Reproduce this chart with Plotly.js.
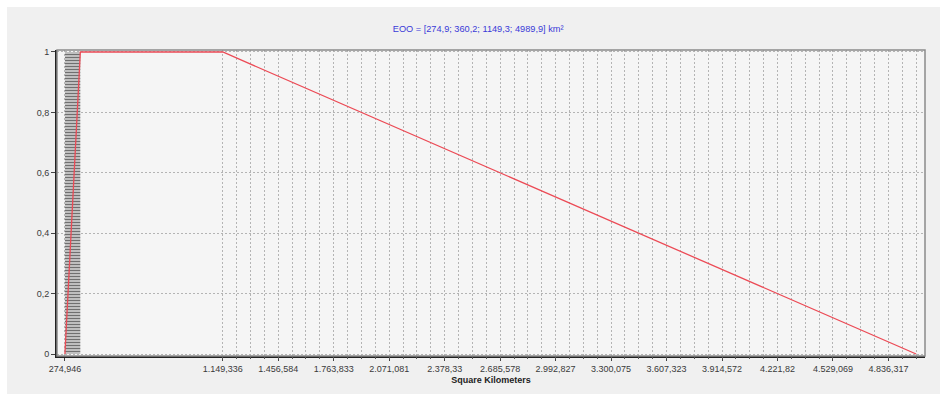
<!DOCTYPE html>
<html>
<head>
<meta charset="utf-8">
<script src="https://cdn.plot.ly/plotly-3.0.1.min.js"></script>
<style>
html,body{margin:0;padding:0;background:#ffffff;}
#chart{position:absolute;left:7px;top:7px;width:933px;height:387px;}
</style>
</head>
<body>
<div id="chart"></div>
<script>
// Trapezoidal fuzzy EOO (km²)
const eooX = [274.946, 360.2, 1149.336, 4989.9];
const eooY = [0, 1, 1, 0];
// Hatched support region (lower bound to lower-mode)
const hatchX = [274.946, 360.2];
const hatchY = [1, 1];
// X tick values and labels
const xTickVals = [274.946, 1149.336, 1456.584, 1763.833, 2071.081, 2378.33, 2685.578, 2992.827, 3300.075, 3607.323, 3914.572, 4221.82, 4529.069, 4836.317];
const xTickText = ["274,946", "1.149,336", "1.456,584", "1.763,833", "2.071,081", "2.378,33", "2.685,578", "2.992,827", "3.300,075", "3.607,323", "3.914,572", "4.221,82", "4.529,069", "4.836,317"];
const yTickVals = [0, 0.2, 0.4, 0.6, 0.8, 1];
const titleText = "EOO = [274,9; 360,2; 1149,3; 4989,9] km²";
const xTitle = "Square Kilometers";

const xRange = [231, 5039];
const yRange = [-0.0066, 1.0066];

// grid positions (layout only): 4 subdivisions per labelled interval
const gridStep = (xTickVals[2] - xTickVals[1]) / 4;
const gridVals = [];
for (let v = xTickVals[1]; v <= xRange[1]; v += gridStep) gridVals.push(v);

const font = {family: "Liberation Sans, Arial, sans-serif", size: 9, color: "#3a3a3a"};
const gridCol = "#b4b4b4";
const gridDash = "2px,2px";

const traces = [
  {
    x: hatchX, y: hatchY, type: "scatter", mode: "lines",
    fill: "tozeroy",
    fillpattern: {shape: "-", fgcolor: "#707070", bgcolor: "#f4f4f4", size: 3, solidity: 0.6},
    line: {width: 0, color: "rgba(0,0,0,0)"},
    hoverinfo: "skip", showlegend: false
  },
  {
    x: eooX, y: eooY, type: "scatter", mode: "lines",
    line: {color: "#ec4a55", width: 1.3},
    showlegend: false
  }
];

const layout = {
  width: 933, height: 387,
  margin: {l: 50, r: 15, t: 43, b: 38},
  paper_bgcolor: "#f0f0f0",
  plot_bgcolor: "#f5f5f5",
  separators: ",.",
  font: font,
  showlegend: false,
  title: {text: titleText, font: {family: "Liberation Sans, Arial, sans-serif", size: 9.2, color: "#3a3ad8"},
          x: 0.505, xanchor: "center", y: 0.943, yanchor: "middle"},
  xaxis: {
    range: xRange, tickmode: "array", tickvals: xTickVals, ticktext: xTickText,
    showgrid: true, gridcolor: gridCol, griddash: gridDash, gridwidth: 1,
    showline: true, linecolor: "#222", linewidth: 2,
    ticks: "outside", ticklen: 3, tickcolor: "#444",
    zeroline: false, tickfont: font,
    title: {text: xTitle, font: {family: "Liberation Sans, Arial, sans-serif", size: 9, color: "#222", weight: "bold"}, standoff: 4}
  },
  xaxis2: {
    overlaying: "x", matches: "x", range: xRange, tickmode: "array", tickvals: gridVals,
    showticklabels: false, showgrid: true, gridcolor: gridCol, griddash: gridDash, gridwidth: 1,
    ticks: "outside", ticklen: 2, tickcolor: "#555", showline: false, zeroline: false
  },
  yaxis: {
    range: yRange, tickmode: "array", tickvals: yTickVals,
    showgrid: true, gridcolor: gridCol, griddash: gridDash, gridwidth: 1,
    showline: true, linecolor: "#222", linewidth: 2,
    ticks: "outside", ticklen: 4, tickcolor: "#444",
    zeroline: false, tickfont: font
  },
  shapes: [
    {type: "rect", xref: "paper", yref: "paper", x0: 0, x1: 1, y0: 0, y1: 1,
     line: {color: "#8a8a8a", width: 1.5}, layer: "above"}
  ]
};

// invisible helper trace so the overlay grid axis is drawn
traces.push({x: [xRange[0]], y: [0], xaxis: "x2", type: "scatter", mode: "markers",
             marker: {opacity: 0}, hoverinfo: "skip", showlegend: false});

Plotly.newPlot("chart", traces, layout, {displayModeBar: false, staticPlot: true});
</script>
</body>
</html>
